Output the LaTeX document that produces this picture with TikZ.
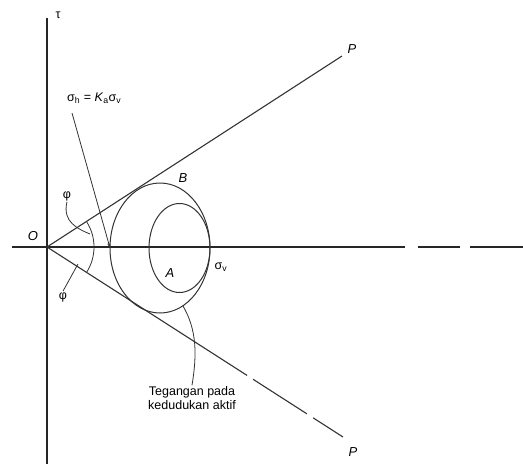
\documentclass[tikz,border=0pt]{standalone}
\usepackage{fontspec}
\setmainfont{Liberation Sans}
\usetikzlibrary{arrows.meta, positioning, calc}
\tikzset{
  axis/.style = {line width=1.3pt, draw=black!85},
  envl/.style = {line width=1.1pt, draw=black!80},
  mohr/.style = {line width=1pt, draw=black!80},
  lead/.style = {line width=0.8pt, draw=black!80},
  lbl/.style  = {font=\fontsize{12.5}{14}\selectfont, inner sep=1pt},
  pt/.style   = {font=\fontsize{13}{15}\selectfont\itshape, inner sep=1pt},
  note/.style = {font=\fontsize{12.5}{14}\selectfont, align=center, inner sep=1pt}
}
\begin{document}
\begin{tikzpicture}[x=1pt, y=-1pt]
\useasboundingbox (0,0) rectangle (523,464);
% reference points
\coordinate (O)   at ( 47,247);
\coordinate (Pu)  at (342, 56);
\coordinate (Pl)  at (343,437);
\coordinate (cB)  at (160,248);
\coordinate (cA)  at (179.5,248);
\coordinate (sh)  at (110,248);

% axes
\draw[axis] (47,464) -- (47,18);
\draw[axis] (12,247) -- (405,247);
\draw[axis] (418,247) -- (460,247);
\draw[axis] (470,247) -- (523,247);

% failure envelopes
\draw[envl] (O) -- (Pu);
\draw[envl] (O) -- ($(O)!0.676!(Pl)$);
\draw[envl] ($(O)!0.696!(Pl)$) -- ($(O)!0.878!(Pl)$);
\draw[envl] ($(O)!0.899!(Pl)$) -- (Pl);

% Mohr circles
\draw[mohr] (cB) ellipse [x radius=50, y radius=65];
\draw[mohr] (cA) ellipse [x radius=30.5, y radius=44.5];
\draw[lead] (O) ++(-33:47) arc[start angle=-33, end angle=33, radius=47];

% labels
\node[lbl] at ( 58, 15) (tau) {τ};
\node[pt]  at ( 33,236) (o)   {O};
\node[pt]  at (352, 49) (pu)  {P};
\node[pt]  at (353,452) (pl)  {P};
\node[pt]  at (183,178) (b)   {B};
\node[pt]  at (170,273) (a)   {A};
\node[lbl] at (221,267) (sv)  {σ\textsubscript{v}};
\node[lbl] at ( 67,196) (phu) {φ};
\node[lbl] at ( 63,297) (phl) {φ};
\node[lbl, anchor=west] at (66, 98) (shl) {σ\textsubscript{h} = \textit{K}\textsubscript{a}σ\textsubscript{v}};
\node[note] at (192,398) (teg) {Tegangan pada\\kedudukan aktif};

% leaders
\draw[lead, -{Stealth[length=5pt, width=3pt]}] (72,113) -- (sh);
\draw[lead] (phu.south) .. controls (62,222) and (78,229) .. (90,234);
\draw[lead] (phl.north) -- (78,264);
\draw[lead] (183,306) .. controls (197,330) and (197,355) .. (teg.north);
\end{tikzpicture}
\end{document}
